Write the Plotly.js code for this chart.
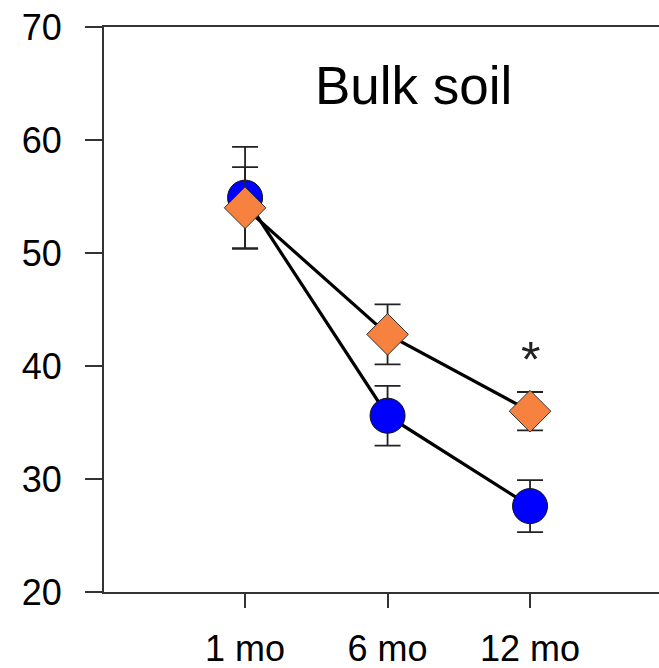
<!DOCTYPE html>
<html>
<head>
<meta charset="utf-8">
<script src="https://cdn.plot.ly/plotly-3.0.1.min.js"></script>
<style>html,body{margin:0;padding:0;background:#fff;}</style>
</head>
<body>
<div id="chart" style="width:659px;height:668px;"></div>
<script>
const categories = ["1 mo", "6 mo", "12 mo"];
const blueValues = [54.9, 35.6, 27.6];
const blueErrors = [4.5, 2.65, 2.3];
const orangeValues = [54.0, 42.8, 36.0];
const orangeErrors = [3.6, 2.65, 1.7];
const yTicks = [20, 30, 40, 50, 60, 70];

const errStyle = {type: 'data', visible: true, color: '#222', thickness: 1.8, width: 13};

const traces = [
  {
    x: categories, y: blueValues, type: 'scatter', mode: 'lines+markers',
    line: {color: '#000', width: 3.2},
    marker: {symbol: 'circle', size: 35, color: '#0000FF', line: {color: '#111', width: 1}},
    error_y: Object.assign({array: blueErrors}, errStyle),
    hoverinfo: 'skip'
  },
  {
    x: categories, y: orangeValues, type: 'scatter', mode: 'lines+markers',
    line: {color: '#000', width: 3.2},
    marker: {symbol: 'diamond', size: 32, color: '#F7813F', line: {color: '#333', width: 1}},
    error_y: Object.assign({array: orangeErrors}, errStyle),
    hoverinfo: 'skip'
  }
];

const layout = {
  width: 659, height: 668,
  margin: {l: 104, r: 0, t: 27, b: 76},
  paper_bgcolor: '#fff', plot_bgcolor: '#fff',
  showlegend: false,
  font: {family: 'Arial, Liberation Sans, sans-serif', color: '#000'},
  xaxis: {
    type: 'category', range: [-0.99, 2.905],
    showgrid: false, zeroline: false,
    showline: true, linecolor: '#333', linewidth: 2, mirror: true,
    ticks: 'outside', ticklen: 14, tickwidth: 2, tickcolor: '#333',
    tickfont: {size: 36, family: 'Arial, Liberation Sans, sans-serif', color: '#000'},
    ticklabelstandoff: 10
  },
  yaxis: {
    range: [20, 70], tickvals: yTicks, ticktext: yTicks.map(String),
    showgrid: false, zeroline: false,
    showline: true, linecolor: '#333', linewidth: 2,
    ticks: 'outside', ticklen: 17, tickwidth: 2, tickcolor: '#333',
    tickfont: {size: 36, family: 'Arial, Liberation Sans, sans-serif', color: '#000'},
    ticklabelstandoff: 16
  },
  annotations: [
    {text: 'Bulk soil', xref: 'paper', yref: 'paper', x: 0.558, y: 0.897,
     xanchor: 'center', yanchor: 'middle', showarrow: false,
     font: {size: 53, family: 'Arial, Liberation Sans, sans-serif', color: '#000'}},
    {text: '*', xref: 'x', yref: 'y', x: '12 mo', y: 40.55,
     xanchor: 'center', yanchor: 'middle', showarrow: false,
     font: {size: 50, family: 'Arial, Liberation Sans, sans-serif', color: '#222'}}
  ]
};

Plotly.newPlot('chart', traces, layout, {displayModeBar: false, staticPlot: true});
</script>
</body>
</html>
